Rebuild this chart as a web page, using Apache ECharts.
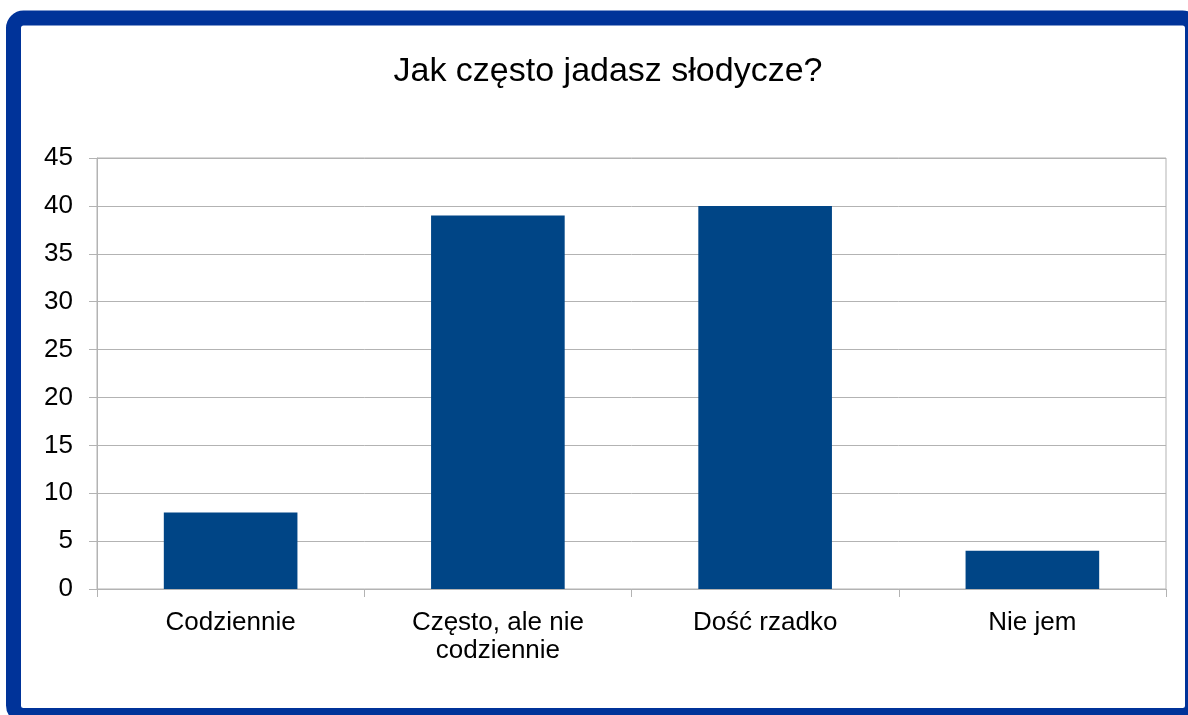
<!DOCTYPE html>
<html>
<head>
<meta charset="utf-8">
<script src="https://cdn.jsdelivr.net/npm/echarts@6/dist/echarts.min.js"></script>
<style>
html,body{margin:0;padding:0;background:#fff;}
#chart{width:1188px;height:715px;}
</style>
</head>
<body>
<div id="chart"></div>
<script>
const titleText = 'Jak często jadasz słodycze?';
const categories = ['Codziennie', 'Często, ale nie\ncodziennie', 'Dość rzadko', 'Nie jem'];
const values = [8, 39, 40, 4];
const yMin = 0, yMax = 45, yStep = 5;

const chart = echarts.init(document.getElementById('chart'), null, {renderer: 'canvas'});
const FONT = '"Liberation Sans", Arial, sans-serif';
const GRID = '#b3b3b3';
chart.setOption({
  backgroundColor: '#ffffff',
  animation: false,
  title: {
    text: titleText,
    left: 603, top: 50, textAlign: 'center',
    textStyle: {fontFamily: FONT, fontSize: 34, fontWeight: 'normal', color: '#000'}
  },
  grid: {left: 97, right: 22, top: 158, bottom: 126, show: true, borderColor: GRID, borderWidth: 1, backgroundColor: 'transparent'},
  xAxis: {
    type: 'category', data: categories,
    axisLine: {show: true, lineStyle: {color: GRID}},
    axisTick: {show: true, length: 8, lineStyle: {color: GRID}},
    axisLabel: {fontFamily: FONT, fontSize: 26, color: '#000', margin: 20, lineHeight: 28, interval: 0}
  },
  yAxis: {
    type: 'value', min: yMin, max: yMax, interval: yStep,
    axisLine: {show: true, lineStyle: {color: GRID}},
    axisTick: {show: true, length: 8, lineStyle: {color: GRID}},
    splitLine: {show: true, lineStyle: {color: GRID}},
    axisLabel: {fontFamily: FONT, fontSize: 26, color: '#000', margin: 24}
  },
  series: [{
    type: 'bar', data: values, barCategoryGap: '50%',
    itemStyle: {color: '#004586'}
  }],
  graphic: [{
    type: 'rect', silent: true, z: 100,
    shape: {x: 13.5, y: 18, width: 1179, height: 697.5, r: 10},
    style: {fill: 'none', stroke: '#003399', lineWidth: 15}
  }]
});
</script>
</body>
</html>
